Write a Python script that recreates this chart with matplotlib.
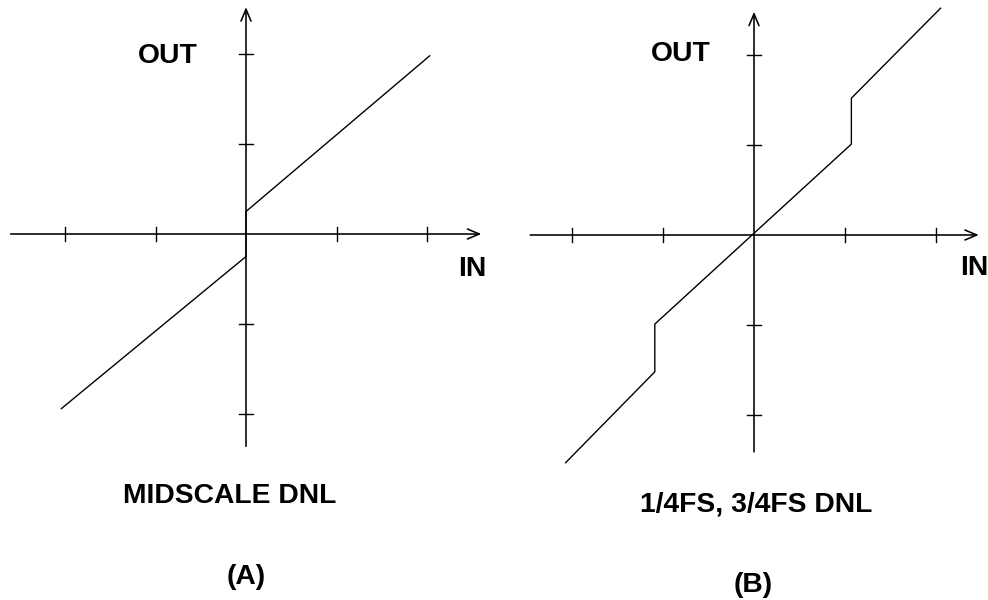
import matplotlib
matplotlib.use("Agg")
import matplotlib.pyplot as plt

# transfer curves, in units of one tick step
midscale_in = [-2.04, 0.0, 0.0, 2.03]
midscale_out = [-1.94, -0.25, 0.25, 1.98]

quarter_in = [-2.07, -1.09, -1.09, 1.07, 1.07, 2.05]
quarter_out = [-2.53, -1.52, -0.99, 1.01, 1.52, 2.52]

tick_steps = [-2, -1, 1, 2]

panel_titles = ["MIDSCALE DNL", "1/4FS, 3/4FS DNL"]
panel_tags = ["(A)", "(B)"]

plt.rcParams["font.family"] = ["Liberation Sans", "DejaVu Sans"]

W, H = 988, 600
fig = plt.figure(figsize=(W / 100, H / 100), dpi=100)

FONT = dict(fontsize=20.3, fontweight="bold", ha="center", va="center")
TICK = 0.078


def make_panel(left_px, origin, scale, xspan, yspan, text_pos):
    """Axes covering half the figure, with the origin placed at a pixel spot."""
    ox, oy = origin
    sx, sy = scale
    ax = fig.add_axes([left_px / W, 0, 0.5, 1])
    ax.set_xlim(-(ox - left_px) / sx, (left_px + W / 2 - ox) / sx)
    ax.set_ylim(-(H - oy) / sy, oy / sy)
    ax.axis("off")

    arrow = dict(arrowstyle="->,head_length=0.85,head_width=0.36",
                 lw=1.15, color="black", shrinkA=0, shrinkB=0)
    # x axis and y axis with open arrowheads
    ax.annotate("", xy=(xspan[1], 0), xytext=(xspan[0], 0), arrowprops=arrow)
    ax.annotate("", xy=(0, yspan[1]), xytext=(0, yspan[0]), arrowprops=arrow)

    for t in tick_steps:
        ax.plot([t, t], [-TICK, TICK], color="black", lw=1.0)
        ax.plot([-TICK, TICK], [t, t], color="black", lw=1.0)

    ax.text(*text_pos["out"], "OUT", **FONT)
    ax.text(*text_pos["in"], "IN", **FONT)
    return ax


ax_a = make_panel(0, (246, 234), (90.5, 90), (-2.6, 2.6), (-2.36, 2.52),
                  {"out": (-0.86, 1.98), "in": (2.5, -0.39)})
ax_a.plot(midscale_in, midscale_out, color="black", lw=1.0)
ax_a.text(-0.18, -2.91, panel_titles[0], **FONT)
ax_a.text(0.0, -3.81, panel_tags[0], **FONT)

ax_b = make_panel(494, (754, 235), (91, 90), (-2.46, 2.47), (-2.41, 2.48),
                  {"out": (-0.81, 2.01), "in": (2.42, -0.37)})
ax_b.plot(quarter_in, quarter_out, color="black", lw=1.0)
ax_b.text(0.02, -2.99, panel_titles[1], **FONT)
ax_b.text(-0.01, -3.89, panel_tags[1], **FONT)

fig.savefig("out.png", dpi=100)
